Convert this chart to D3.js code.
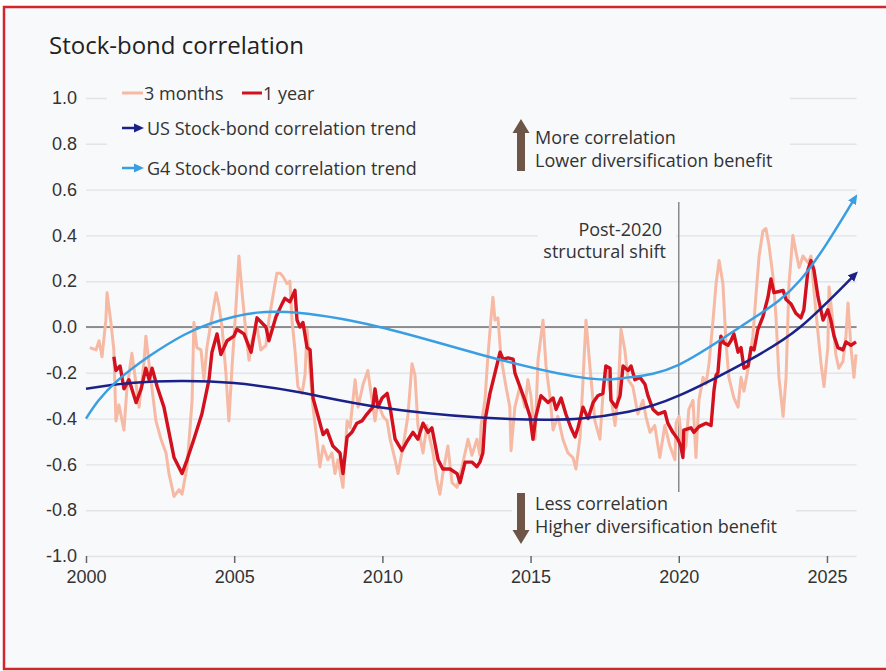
<!DOCTYPE html>
<html>
<head>
<meta charset="utf-8">
<script src="https://cdn.jsdelivr.net/npm/d3@7"></script>
<style>
  body { margin: 0; background: #fff; }
  svg { display: block; font-family: "Open Sans", "Noto Sans", sans-serif; }
</style>
</head>
<body>
<div id="chart"></div>
<script>
// ---- data: [year, correlation] ----
var threeMonths = [
  [2000.13,-0.09],[2000.34,-0.10],[2000.44,-0.06],[2000.54,-0.13],[2000.67,0.03],[2000.71,0.15],[2000.84,0.02],[2000.94,-0.10],
  [2001.01,-0.41],[2001.11,-0.34],[2001.28,-0.45],[2001.38,-0.27],[2001.55,-0.115],[2001.69,-0.25],[2001.79,-0.35],[2001.96,-0.15],
  [2002.02,-0.04],[2002.19,-0.23],[2002.36,-0.41],[2002.53,-0.49],[2002.70,-0.55],[2002.80,-0.64],[2002.97,-0.74],[2003.14,-0.71],
  [2003.24,-0.73],[2003.41,-0.61],[2003.58,-0.32],[2003.64,0.02],[2003.74,-0.09],[2003.88,-0.10],[2003.98,-0.23],[2004.08,-0.09],
  [2004.25,0.045],[2004.39,0.15],[2004.49,0.09],[2004.59,0.0],[2004.72,-0.20],[2004.82,-0.41],[2004.93,-0.17],[2005.06,0.09],
  [2005.16,0.31],[2005.26,0.16],[2005.40,-0.03],[2005.50,-0.145],[2005.60,-0.06],[2005.77,0.0],[2005.90,-0.10],[2006.07,-0.08],
  [2006.17,0.03],[2006.34,0.16],[2006.44,0.235],[2006.55,0.235],[2006.65,0.22],[2006.78,0.19],[2006.88,0.20],[2006.95,0.03],
  [2007.05,-0.10],[2007.15,-0.26],[2007.29,-0.29],[2007.39,-0.21],[2007.46,-0.01],[2007.56,-0.20],[2007.66,-0.35],[2007.79,-0.49],
  [2007.89,-0.61],[2008.00,-0.52],[2008.16,-0.58],[2008.30,-0.55],[2008.40,-0.64],[2008.50,-0.58],[2008.67,-0.70],[2008.81,-0.41],
  [2008.91,-0.44],[2009.08,-0.23],[2009.18,-0.35],[2009.35,-0.25],[2009.51,-0.19],[2009.65,-0.32],[2009.75,-0.41],[2009.85,-0.33],
  [2010.02,-0.39],[2010.16,-0.41],[2010.26,-0.49],[2010.43,-0.58],[2010.53,-0.64],[2010.70,-0.52],[2010.86,-0.39],[2011.00,-0.16],
  [2011.10,-0.21],[2011.20,-0.43],[2011.37,-0.55],[2011.50,-0.43],[2011.71,-0.55],[2011.84,-0.67],[2011.94,-0.73],[2012.04,-0.64],
  [2012.21,-0.52],[2012.35,-0.68],[2012.52,-0.70],[2012.69,-0.61],[2012.89,-0.49],[2013.02,-0.56],[2013.19,-0.49],[2013.29,-0.56],
  [2013.33,-0.43],[2013.46,-0.32],[2013.56,-0.13],[2013.66,0.03],[2013.73,0.13],[2013.80,0.03],[2013.90,0.04],[2014.00,-0.13],
  [2014.17,-0.26],[2014.30,-0.35],[2014.34,-0.54],[2014.47,-0.35],[2014.64,-0.26],[2014.81,-0.35],[2014.91,-0.23],[2015.01,-0.30],
  [2015.15,-0.49],[2015.25,-0.145],[2015.42,0.03],[2015.52,-0.17],[2015.65,-0.30],[2015.76,-0.45],[2015.92,-0.39],[2016.09,-0.49],
  [2016.26,-0.55],[2016.43,-0.57],[2016.53,-0.62],[2016.67,-0.48],[2016.77,-0.23],[2016.87,0.03],[2017.00,-0.17],[2017.17,-0.41],
  [2017.34,-0.49],[2017.44,-0.30],[2017.54,-0.17],[2017.71,-0.30],[2017.85,-0.43],[2017.95,-0.30],[2018.05,-0.01],[2018.18,-0.10],
  [2018.29,-0.23],[2018.45,-0.26],[2018.62,-0.38],[2018.79,-0.32],[2018.89,-0.39],[2019.03,-0.46],[2019.19,-0.43],[2019.36,-0.57],
  [2019.53,-0.43],[2019.70,-0.52],[2019.87,-0.58],[2019.91,-0.42],[2020.01,-0.39],[2020.14,-0.55],[2020.24,-0.52],[2020.34,-0.36],
  [2020.48,-0.32],[2020.58,-0.57],[2020.68,-0.32],[2020.82,-0.22],[2020.92,-0.25],[2021.02,-0.16],[2021.15,0.02],[2021.26,0.19],
  [2021.36,0.29],[2021.49,0.19],[2021.59,-0.06],[2021.69,-0.22],[2021.86,-0.31],[2022.00,-0.35],[2022.10,-0.22],[2022.20,-0.28],
  [2022.34,-0.18],[2022.50,-0.04],[2022.60,0.13],[2022.71,0.31],[2022.84,0.42],[2022.94,0.43],[2023.04,0.36],[2023.18,0.22],
  [2023.28,0.045],[2023.38,-0.22],[2023.52,-0.39],[2023.62,-0.22],[2023.72,0.19],[2023.85,0.40],[2023.95,0.33],[2024.06,0.26],
  [2024.19,0.31],[2024.36,0.28],[2024.46,0.31],[2024.56,0.16],[2024.70,-0.03],[2024.80,-0.16],[2024.90,-0.26],[2025.03,-0.09],
  [2025.07,0.175],[2025.20,0.02],[2025.30,-0.12],[2025.40,-0.18],[2025.54,-0.15],[2025.64,-0.04],[2025.71,0.105],[2025.81,-0.09],
  [2025.91,-0.22],[2025.98,-0.12]
];

var oneYear = [
  [2000.94,-0.13],[2001.01,-0.19],[2001.15,-0.17],[2001.28,-0.27],[2001.45,-0.23],[2001.69,-0.33],[2001.86,-0.27],[2002.02,-0.18],
  [2002.13,-0.23],[2002.23,-0.18],[2002.40,-0.26],[2002.63,-0.35],[2002.80,-0.46],[2002.97,-0.57],[2003.24,-0.64],[2003.41,-0.58],
  [2003.64,-0.49],[2003.91,-0.38],[2004.15,-0.23],[2004.25,-0.11],[2004.42,-0.03],[2004.55,-0.12],[2004.76,-0.06],[2004.99,-0.04],
  [2005.09,-0.01],[2005.33,-0.03],[2005.57,-0.11],[2005.77,0.04],[2006.07,0.0],[2006.17,-0.06],[2006.41,0.045],[2006.61,0.10],
  [2006.71,0.125],[2006.88,0.11],[2007.05,0.16],[2007.12,0.03],[2007.22,0.0],[2007.32,0.02],[2007.46,-0.09],[2007.56,-0.10],
  [2007.66,-0.31],[2007.83,-0.39],[2008.00,-0.47],[2008.13,-0.45],[2008.33,-0.52],[2008.57,-0.55],[2008.67,-0.64],[2008.81,-0.48],
  [2008.97,-0.46],[2009.14,-0.42],[2009.31,-0.41],[2009.48,-0.38],[2009.68,-0.35],[2009.75,-0.27],[2009.85,-0.35],[2009.99,-0.31],
  [2010.16,-0.29],[2010.26,-0.35],[2010.43,-0.49],[2010.66,-0.54],[2010.83,-0.50],[2011.03,-0.46],[2011.20,-0.49],[2011.37,-0.42],
  [2011.54,-0.46],[2011.67,-0.44],[2011.88,-0.58],[2012.04,-0.62],[2012.28,-0.62],[2012.52,-0.64],[2012.62,-0.68],[2012.79,-0.59],
  [2013.02,-0.59],[2013.19,-0.61],[2013.29,-0.59],[2013.39,-0.55],[2013.46,-0.41],[2013.63,-0.29],[2013.80,-0.20],[2013.97,-0.11],
  [2014.07,-0.14],[2014.24,-0.135],[2014.41,-0.14],[2014.47,-0.20],[2014.64,-0.26],[2014.81,-0.32],[2014.98,-0.39],[2015.08,-0.49],
  [2015.18,-0.39],[2015.35,-0.30],[2015.59,-0.33],[2015.76,-0.31],[2015.86,-0.36],[2016.03,-0.31],[2016.19,-0.38],[2016.36,-0.44],
  [2016.50,-0.48],[2016.60,-0.44],[2016.77,-0.35],[2016.94,-0.40],[2017.11,-0.33],[2017.27,-0.30],[2017.44,-0.29],[2017.54,-0.17],
  [2017.68,-0.18],[2017.71,-0.32],[2017.88,-0.35],[2018.02,-0.30],[2018.12,-0.17],[2018.29,-0.19],[2018.39,-0.17],[2018.52,-0.23],
  [2018.69,-0.22],[2018.86,-0.25],[2018.96,-0.30],[2019.13,-0.36],[2019.30,-0.38],[2019.53,-0.37],[2019.63,-0.42],[2019.80,-0.46],
  [2019.97,-0.49],[2020.07,-0.52],[2020.14,-0.57],[2020.17,-0.45],[2020.41,-0.44],[2020.51,-0.46],[2020.68,-0.435],[2020.92,-0.42],
  [2021.09,-0.43],[2021.19,-0.275],[2021.26,-0.21],[2021.32,-0.20],[2021.42,-0.04],[2021.52,-0.07],[2021.66,-0.08],[2021.76,-0.06],
  [2021.86,-0.03],[2022.00,-0.11],[2022.10,-0.09],[2022.20,-0.18],[2022.34,-0.17],[2022.44,-0.09],[2022.54,-0.10],[2022.67,-0.01],
  [2022.84,0.045],[2023.01,0.13],[2023.11,0.21],[2023.21,0.15],[2023.38,0.155],[2023.52,0.16],[2023.62,0.12],[2023.79,0.10],
  [2023.95,0.06],[2024.12,0.04],[2024.22,0.075],[2024.36,0.25],[2024.46,0.29],[2024.56,0.25],[2024.70,0.13],[2024.87,0.03],
  [2025.03,0.075],[2025.13,0.03],[2025.24,-0.04],[2025.37,-0.09],[2025.54,-0.10],[2025.64,-0.065],[2025.81,-0.08],[2025.98,-0.065]
];

var usTrend = [
  [2000,-0.27],[2001.5,-0.245],[2003.2,-0.236],[2005,-0.245],[2007.2,-0.285],[2009.9,-0.35],[2013.3,-0.395],
  [2015.5,-0.405],[2016.7,-0.40],[2018.3,-0.37],[2020,-0.30],[2022.3,-0.15],[2024.1,0.0],[2025.95,0.23]
];

var g4Trend = [
  [2000,-0.40],[2001.1,-0.23],[2003.3,-0.035],[2005,0.045],[2006.8,0.065],[2009.9,0.0],[2013.3,-0.12],
  [2016.7,-0.22],[2018.3,-0.22],[2020,-0.165],[2022.3,0.02],[2024.1,0.205],[2025.95,0.565]
];

var yTicks = [-1, -0.8, -0.6, -0.4, -0.2, 0, 0.2, 0.4, 0.6, 0.8, 1];
var xTicks = [2000, 2005, 2010, 2015, 2020, 2025];
var shiftYear = 2020;

var colors = {
  threeMonths: "#f6b9a4",
  oneYear: "#d3101d",
  us: "#1a2188",
  g4: "#3a9ee2",
  note: "#6d5647",
  text: "#333333"
};

/*------ canvas ------*/
var width = 886, height = 671;
var svg = d3.select("#chart").append("svg")
  .attr("width", width)
  .attr("height", height);

svg.append("rect")
  .attr("x", 4).attr("y", 7)
  .attr("width", width + 10).attr("height", 662)
  .attr("fill", "#f8f9fb")
  .attr("stroke", "#d2262c")
  .attr("stroke-width", 2.5);

var x = d3.scaleLinear().domain([2000, 2026]).range([86, 856.6]);
var y = d3.scaleLinear().domain([-1, 1]).range([556, 98]);

// arrow markers
var defs = svg.append("defs");
function marker(id, color) {
  defs.append("marker")
    .attr("id", id)
    .attr("viewBox", "0 -5 10 10")
    .attr("refX", 6).attr("refY", 0)
    .attr("markerUnits", "userSpaceOnUse")
    .attr("markerWidth", 10).attr("markerHeight", 10)
    .attr("orient", "auto")
    .append("path")
      .attr("d", "M0,-4.5L10,0L0,4.5Z")
      .attr("fill", color);
}
marker("arrUS", colors.us);
marker("arrG4", colors.g4);

/*------ axes ------*/
var yAxis = svg.append("g")
  .attr("transform", "translate(86,0)")
  .call(d3.axisLeft(y).tickValues(yTicks).tickSize(-(x.range()[1] - 86)).tickPadding(9)
    .tickFormat(function(d) { return d.toFixed(1); }));
yAxis.select(".domain").remove();
yAxis.selectAll("line").attr("stroke", "#e2e4e7").attr("stroke-width", 1.4);
yAxis.selectAll("text").attr("fill", colors.text).style("font-size", "18px");

var xAxis = svg.append("g")
  .attr("transform", "translate(0," + y(-1) + ")")
  .call(d3.axisBottom(x).tickValues(xTicks).tickSize(7).tickPadding(7).tickFormat(d3.format("d")));
xAxis.select(".domain").remove();
xAxis.selectAll("line").attr("stroke", "#666").attr("stroke-width", 1.5);
xAxis.selectAll("text").attr("fill", colors.text).style("font-size", "18px");

/*------ boxes that hide grid lines behind labels ------*/
var bg = "#f8f9fb";
svg.append("rect").attr("x", 107).attr("y", 82).attr("width", 683).attr("height", 96).attr("fill", bg);
svg.append("rect").attr("x", 538).attr("y", 212).attr("width", 138).attr("height", 48).attr("fill", bg);
svg.append("rect").attr("x", 512).attr("y", 490).attr("width", 284).attr("height", 50).attr("fill", bg);

// zero line and post-2020 marker
svg.append("line")
  .attr("x1", x(2000)).attr("x2", x.range()[1])
  .attr("y1", y(0)).attr("y2", y(0))
  .attr("stroke", "#333").attr("stroke-width", 1.2);

svg.append("line")
  .attr("x1", x(shiftYear)).attr("x2", x(shiftYear))
  .attr("y1", 202).attr("y2", 492)
  .attr("stroke", "#8a8a8a").attr("stroke-width", 1.5);

/*------ lines ------*/
var line = d3.line()
  .x(function(d) { return x(d[0]); })
  .y(function(d) { return y(d[1]); });

var smooth = d3.line()
  .x(function(d) { return x(d[0]); })
  .y(function(d) { return y(d[1]); })
  .curve(d3.curveNatural);

svg.append("path").datum(threeMonths)
  .attr("d", line)
  .attr("fill", "none")
  .attr("stroke", colors.threeMonths)
  .attr("stroke-width", 3)
  .attr("stroke-linejoin", "round");

svg.append("path").datum(oneYear)
  .attr("d", line)
  .attr("fill", "none")
  .attr("stroke", colors.oneYear)
  .attr("stroke-width", 3.4)
  .attr("stroke-linejoin", "round");

svg.append("path").datum(usTrend)
  .attr("d", smooth)
  .attr("fill", "none")
  .attr("stroke", colors.us)
  .attr("stroke-width", 2.5)
  .attr("marker-end", "url(#arrUS)");

svg.append("path").datum(g4Trend)
  .attr("d", smooth)
  .attr("fill", "none")
  .attr("stroke", colors.g4)
  .attr("stroke-width", 2.5)
  .attr("marker-end", "url(#arrG4)");

/*------ title ------*/
svg.append("text")
  .attr("x", 49).attr("y", 54)
  .attr("fill", "#222")
  .style("font-size", "24px")
  .style("font-weight", 500)
  .text("Stock-bond correlation");

/*------ legend ------*/
var legend = svg.append("g").style("font-size", "18px").attr("fill", colors.text);

legend.append("line").attr("x1", 122).attr("x2", 143).attr("y1", 93).attr("y2", 93)
  .attr("stroke", colors.threeMonths).attr("stroke-width", 3);
legend.append("text").attr("x", 144).attr("y", 94).attr("dy", "0.35em").text("3 months");
legend.append("line").attr("x1", 242).attr("x2", 262).attr("y1", 93).attr("y2", 93)
  .attr("stroke", colors.oneYear).attr("stroke-width", 3);
legend.append("text").attr("x", 263).attr("y", 94).attr("dy", "0.35em").text("1 year");

legend.append("line").attr("x1", 122).attr("x2", 140).attr("y1", 128).attr("y2", 128)
  .attr("stroke", colors.us).attr("stroke-width", 2.5).attr("marker-end", "url(#arrUS)");
legend.append("text").attr("x", 147).attr("y", 129).attr("dy", "0.35em").text("US Stock-bond correlation trend");

legend.append("line").attr("x1", 122).attr("x2", 140).attr("y1", 168).attr("y2", 168)
  .attr("stroke", colors.g4).attr("stroke-width", 2.5).attr("marker-end", "url(#arrG4)");
legend.append("text").attr("x", 147).attr("y", 169).attr("dy", "0.35em").text("G4 Stock-bond correlation trend");

/*------ annotations ------*/
var notes = svg.append("g").style("font-size", "18px").attr("fill", colors.text);

// up arrow
notes.append("path")
  .attr("d", "M517,171 L517,133 L512.5,133 L521,119 L529.5,133 L525,133 L525,171 Z")
  .attr("fill", colors.note);
notes.append("text").attr("x", 535).attr("y", 138).attr("dy", "0.35em").text("More correlation");
notes.append("text").attr("x", 535).attr("y", 161).attr("dy", "0.35em").text("Lower diversification benefit");

// down arrow
notes.append("path")
  .attr("d", "M517,493 L517,530 L512.5,530 L521,544 L529.5,530 L525,530 L525,493 Z")
  .attr("fill", colors.note);
notes.append("text").attr("x", 535).attr("y", 504).attr("dy", "0.35em").text("Less correlation");
notes.append("text").attr("x", 535).attr("y", 527).attr("dy", "0.35em").text("Higher diversification benefit");

notes.append("text").attr("x", 662).attr("y", 230).attr("dy", "0.35em")
  .attr("text-anchor", "end").text("Post-2020");
notes.append("text").attr("x", 666).attr("y", 252).attr("dy", "0.35em")
  .attr("text-anchor", "end").text("structural shift");
</script>
</body>
</html>
